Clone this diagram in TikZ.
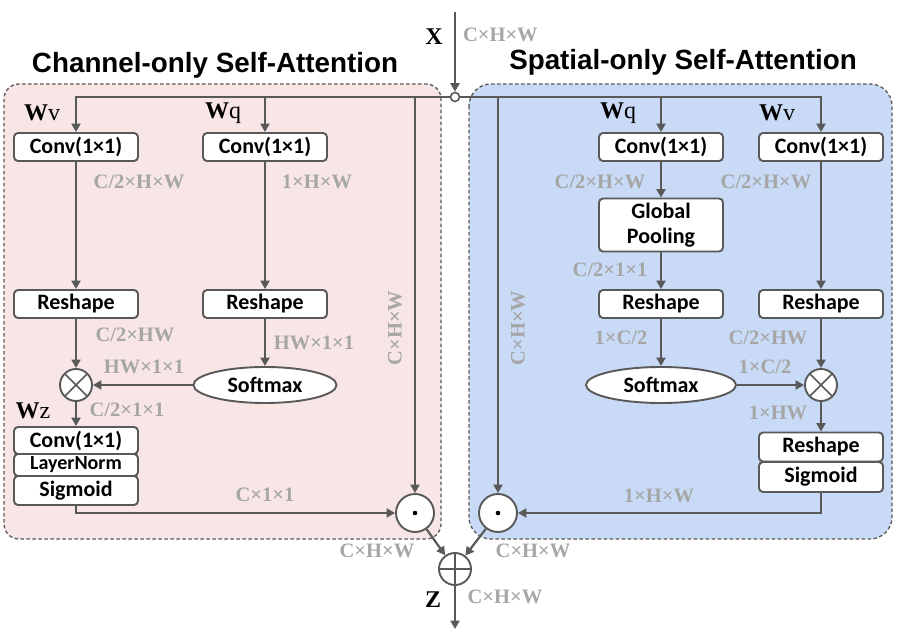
\documentclass[tikz,border=0pt]{standalone}
\usepackage{fontspec}
\setmainfont{Liberation Serif}
\newfontfamily\boxfont{Carlito}
\newfontfamily\ttlfont{Liberation Sans}
\usetikzlibrary{arrows.meta,shapes.geometric}
\definecolor{ln}{HTML}{595959}
\definecolor{lbl}{HTML}{A6A6A6}
\definecolor{pinkbg}{HTML}{F8E5E5}
\definecolor{bluebg}{HTML}{C8DAF5}
\begin{document}
\begin{tikzpicture}[x=1pt,y=-1pt,line width=2.2pt,
  arr/.style={draw=ln,line width=2.2pt,-{Triangle[length=8.5pt,width=9pt]}},
  con/.style={draw=ln,line width=2.2pt},
  box/.style={draw=ln,fill=white,rounded corners=4pt,line width=1.9pt,minimum width=124pt,minimum height=28pt,inner sep=0pt,font=\boxfont\bfseries\fontsize{22}{23}\selectfont},
  dim/.style={text=lbl,font=\bfseries\fontsize{20.5}{21}\selectfont,inner sep=0pt},
  wlab/.style={font=\fontsize{24}{25}\selectfont,inner sep=0pt},
  ttl/.style={font=\ttlfont\bfseries\fontsize{27.8}{30}\selectfont,inner sep=0pt},
  op/.style={circle,draw=ln,fill=white,line width=1.9pt,inner sep=0pt},
  smx/.style={ellipse,draw=ln,fill=white,line width=1.9pt,inner sep=0pt,minimum height=36pt,font=\boxfont\bfseries\fontsize{22}{23}\selectfont},
  panel/.style={draw=ln,line width=1.3pt,dash pattern=on 3.5pt off 2.5pt}
]
\useasboundingbox (0,0) rectangle (905,631);
% panels
\path[panel,fill=pinkbg,rounded corners=15pt] (4,84) rectangle (441,539);
\path[panel,fill=bluebg,rounded corners=22pt] (469,84) rectangle (892,539);
% titles
\node[ttl] (t1) at (215,65) {Channel-only Self-Attention};
\node[ttl] (t2) at (683,62) {Spatial-only Self-Attention};
% input
\coordinate (xtop) at (455,12);
\node[op,minimum size=9pt,line width=1.6pt] (j) at (455,97) {};
\node[wlab,font=\bfseries\fontsize{24}{25}\selectfont] (X) at (434,37) {X};
\node[dim,anchor=west] (dx) at (462,35) {C×H×W};
% left branch nodes
\node[box] (convV) at (76,147) {Conv(1×1)};
\node[box] (convQ) at (265,147) {Conv(1×1)};
\node[box] (reshV) at (76,304) {Reshape};
\node[box] (reshQ) at (265,304) {Reshape};
\node[smx,minimum width=143pt] (smL) at (265,385) {Softmax};
\node[op,minimum size=32pt,path picture={\draw[ln,line width=1.7pt] (path picture bounding box.north west) -- (path picture bounding box.south east) (path picture bounding box.north east) -- (path picture bounding box.south west);}] (otL) at (76,385) {};
\node[box,minimum height=27pt] (czL) at (76,440.5) {Conv(1×1)};
\node[box,minimum height=22pt,font=\boxfont\bfseries\fontsize{20}{21}\selectfont] (lnL) at (76,465) {LayerNorm};
\node[box,minimum height=29pt] (sgL) at (76,490.5) {Sigmoid};
\node[op,minimum size=38pt,path picture={\fill[black] (path picture bounding box.center) circle (2.3pt);}] (odL) at (415,513) {};
% right branch nodes
\node[box] (convQ2) at (661,147) {Conv(1×1)};
\node[box] (convV2) at (821,147) {Conv(1×1)};
\node[box,minimum height=53pt,align=center,font=\boxfont\bfseries\fontsize{22}{25}\selectfont] (gp) at (661,225) {Global\\Pooling};
\node[box] (reshQ2) at (661,304) {Reshape};
\node[box] (reshV2) at (821,304) {Reshape};
\node[smx,minimum width=150pt] (smR) at (661,385) {Softmax};
\node[op,minimum size=32pt,path picture={\draw[ln,line width=1.7pt] (path picture bounding box.north west) -- (path picture bounding box.south east) (path picture bounding box.north east) -- (path picture bounding box.south west);}] (otR) at (821,385) {};
\node[box,minimum height=29pt] (rsR) at (821,447) {Reshape};
\node[box,minimum height=30pt] (sgR) at (821,477) {Sigmoid};
\node[op,minimum size=38pt,path picture={\fill[black] (path picture bounding box.center) circle (2.3pt);}] (odR) at (498,513) {};
% sum
\node[op,minimum size=32pt,path picture={\draw[ln,line width=1.7pt] (path picture bounding box.north) -- (path picture bounding box.south) (path picture bounding box.west) -- (path picture bounding box.east);}] (pl) at (455,569) {};
\coordinate (zout) at (455,629);
% connectors
\draw[arr] (xtop) -- (j.north);
\draw[arr] (j.west) -| (convV.north);
\draw[arr] (j.west) -| (convQ.north);
\draw[arr] (j.west) -| (odL.north);
\draw[arr] (j.east) -| (odR.north);
\draw[arr] (j.east) -| (convQ2.north);
\draw[arr] (j.east) -| (convV2.north);
\draw[arr] (convV) -- (reshV);
\draw[arr] (convQ) -- (reshQ);
\draw[arr] (reshQ) -- (smL);
\draw[arr] (reshV) -- (otL);
\draw[arr] (smL) -- (otL);
\draw[arr] (otL) -- (czL);
\draw[arr] (sgL.south) |- (odL.west);
\draw[arr] (convQ2) -- (gp);
\draw[arr] (gp) -- (reshQ2);
\draw[arr] (reshQ2) -- (smR);
\draw[arr] (convV2) -- (reshV2);
\draw[arr] (reshV2) -- (otR);
\draw[arr] (smR) -- (otR);
\draw[arr] (otR) -- (rsR);
\draw[arr] (sgR.south) |- (odR.east);
\draw[arr] (odL) -- (pl);
\draw[arr] (odR) -- (pl);
\draw[arr] (pl) -- (zout);
% W labels
\node[wlab] (wv1) at (42,113) {\textbf{W}v};
\node[wlab] (wq1) at (223,113) {\textbf{W}q};
\node[wlab] (wz) at (33,411) {\textbf{W}z};
\node[wlab] (wq2) at (618,113) {\textbf{W}q};
\node[wlab] (wv2) at (777,113) {\textbf{W}v};
% dimension labels
\node[dim] (d1) at (139,182) {C/2×H×W};
\node[dim] (d2) at (317,182) {1×H×W};
\node[dim,rotate=90] (d3) at (395,328) {C×H×W};
\node[dim] (d4) at (135,335) {C/2×HW};
\node[dim] (d5) at (314,343) {HW×1×1};
\node[dim] (d6) at (144,367) {HW×1×1};
\node[dim] (d7) at (127,410) {C/2×1×1};
\node[dim] (d8) at (265,495) {C×1×1};
\node[dim] (d9) at (600,182) {C/2×H×W};
\node[dim] (d10) at (766,182) {C/2×H×W};
\node[dim] (d11) at (610,270) {C/2×1×1};
\node[dim,rotate=90] (d12) at (518,328) {C×H×W};
\node[dim] (d13) at (621,338) {1×C/2};
\node[dim] (d14) at (768,338) {C/2×HW};
\node[dim] (d15) at (765,367) {1×C/2};
\node[dim] (d16) at (778,413) {1×HW};
\node[dim] (d17) at (659,496) {1×H×W};
\node[dim] (d18) at (377,551) {C×H×W};
\node[dim] (d19) at (533,551) {C×H×W};
\node[dim] (d20) at (505,597) {C×H×W};
\node[wlab,font=\bfseries\fontsize{24}{25}\selectfont] (Z) at (433,600) {Z};
\end{tikzpicture}
\end{document}
